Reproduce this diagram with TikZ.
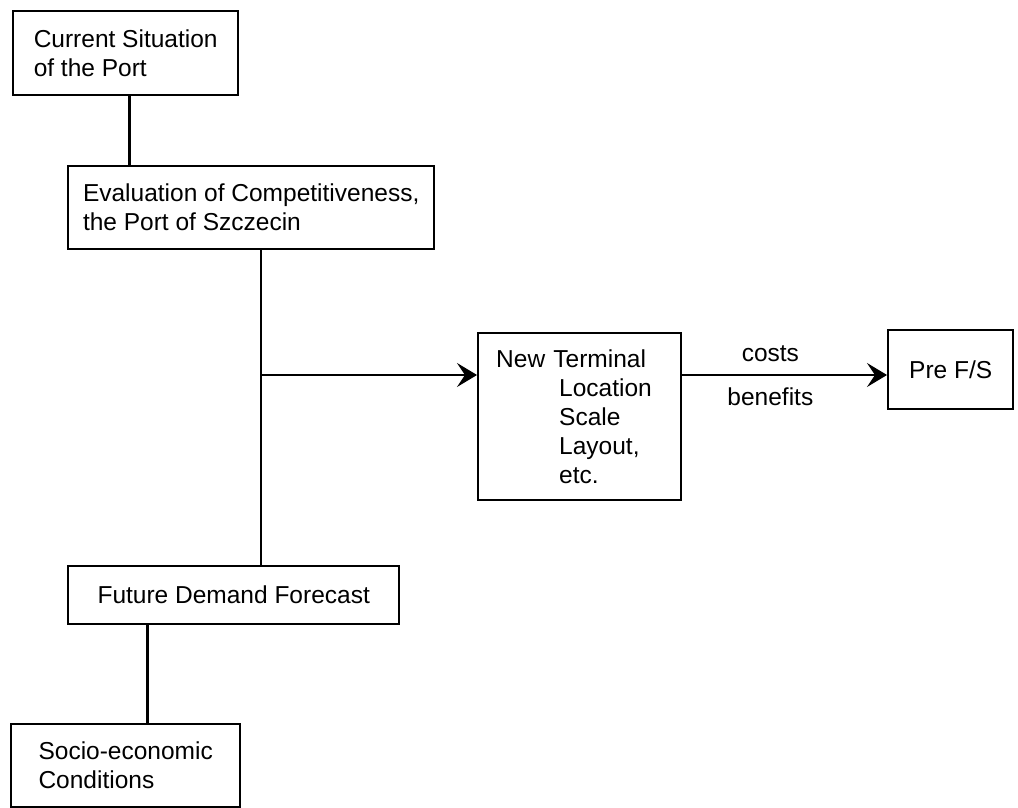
\documentclass[tikz,border=0pt]{standalone}
\usepackage{fontspec}
\setmainfont{Liberation Sans}
\usetikzlibrary{arrows.meta,positioning}
\tikzset{
  stage/.style={draw, line width=1.2pt, align=left, anchor=north west, inner xsep=0pt, inner ysep=2pt},
  link/.style={line width=1.4pt},
  flow/.style={line width=1.1pt, -{Stealth[length=10pt,width=12pt,inset=4pt]}},
}
\begin{document}
\begin{tikzpicture}[x=0.5pt,y=-0.5pt,font=\fontsize{12.25pt}{14.5pt}\selectfont]
  \useasboundingbox (0,0) rectangle (1018,808);
  % boxes
  \node[stage, minimum width=112.5pt, minimum height=42pt] (current) at (12,10) {Current Situation\\of the Port};
  \node[stage, minimum width=183pt, minimum height=41.5pt] (evaluation) at (67,165) {Evaluation of Competitiveness,\\the Port of Szczecin};
  \node[stage, minimum width=165.5pt, minimum height=29pt] (demand) at (67,565) {Future Demand Forecast};
  \node[stage, minimum width=114.5pt, minimum height=41.5pt] (socio) at (10,723) {Socio-economic\\Conditions};
  \node[stage, inner xsep=9pt, text width=83.5pt, minimum width=101.5pt, minimum height=83.5pt] (terminal) at (477,332)
    {New Terminal\\\hspace*{31.5pt}Location\\\hspace*{31.5pt}Scale\\\hspace*{31.5pt}Layout,\\\hspace*{31.5pt}etc.};
  \node[stage, minimum width=62.5pt, minimum height=39.5pt] (prefs) at (887,329) {Pre F/S};
  \coordinate (split) at (261,375);
  % connectors
  \draw[link] ([xshift=1.75pt]current.south) -- ([xshift=1.75pt]current.south |- evaluation.north);
  \draw[link] (split |- evaluation.south) -- (split |- demand.north);
  \draw[link] ([xshift=10.75pt]socio.north) -- ([xshift=10.75pt]socio.north |- demand.south);
  \draw[flow] (split) -- (split -| terminal.west);
  \draw[flow] (terminal.east |- split) --
    node[pos=0.43, above=6pt, inner sep=0pt] (costs) {costs}
    node[pos=0.43, below=6pt, inner sep=0pt] (benefits) {benefits}
    (prefs.west |- split);
\end{tikzpicture}
\end{document}
